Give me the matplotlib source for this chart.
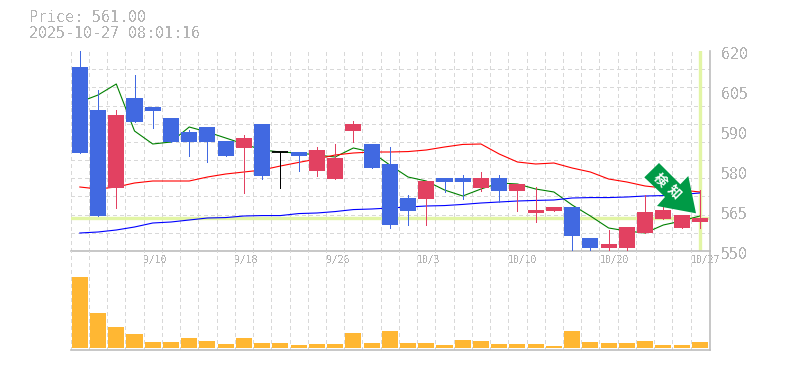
#!/usr/bin/env python3
"""Candlestick + volume snapshot, saved to out.png."""

import matplotlib

matplotlib.use("Agg")  # headless
import matplotlib.pyplot as plt  # noqa: E402
from matplotlib.patches import Polygon  # noqa: E402
from matplotlib.transforms import ScaledTranslation  # noqa: E402

WIDTH, HEIGHT = 785, 370

UP_COLOR = "#e24161"
DOWN_COLOR = "#4169e1"
FLAT_COLOR = "#000000"
VOLUME_COLOR = "#ffb733"
GRID_COLOR = "#d8d8d8"
AXIS_COLOR = "#bdbdbd"
TEXT_COLOR = "#b4b4b4"
MARKER_COLOR = "#e2f5a5"
ARROW_COLOR = "#009a46"
THIN = 0.6  # about one pixel once antialiasing is off
MA_WIDTH = 0.8

TITLE_LINES = ["Price: 561.00", "2025-10-27 08:01:16"]
LAST_PRICE = 561.5

opens = [614.4, 599.35, 572.05, 603.55, 600.4, 596.55, 591.65, 593.4, 588.5, 586.05,
         594.45, 584.65, 584.65, 578.0, 575.2, 592.0, 587.45, 580.45, 568.55, 568.2,
         575.55, 575.55, 572.05, 575.55, 571.0, 563.3, 564.0, 565.4, 554.55, 551.05,
         551.05, 556.3, 561.2, 558.05, 560.15]
closes = [584.3, 562.25, 597.6, 595.15, 599.0, 588.15, 588.15, 588.15, 583.25, 589.55,
          576.25, 584.65, 583.25, 585.35, 582.55, 594.45, 579.05, 559.1, 564.0, 574.5,
          574.15, 574.15, 575.55, 571.0, 573.45, 564.35, 565.4, 555.25, 551.05, 552.45,
          558.4, 563.65, 564.35, 562.6, 561.55]
highs = [620.3, 606.35, 599.35, 611.6, 600.4, 596.55, 592.35, 593.4, 588.5, 590.6,
         594.45, 584.65, 584.65, 586.4, 587.45, 595.5, 587.45, 586.4, 569.6, 574.5,
         575.55, 576.6, 577.65, 576.6, 573.45, 572.4, 565.4, 565.4, 554.55, 557.35,
         558.4, 569.6, 567.15, 562.6, 571.35]
lows = [584.3, 562.25, 565.05, 595.15, 593.05, 588.15, 583.25, 581.15, 583.25, 570.3,
        575.2, 572.05, 578.0, 576.25, 575.2, 588.15, 579.05, 558.05, 559.1, 559.1,
        570.65, 568.2, 571.0, 567.15, 564.0, 560.15, 564.0, 550.0, 550.0, 550.0,
        550.0, 556.3, 561.2, 558.05, 558.05]

ma_short = [602.15, 604.6, 608.45, 592.0, 587.45, 588.15, 593.4, 591.65, 589.55, 587.45,
            585.35, 584.65, 584.3, 583.6, 582.9, 586.05, 584.65, 580.1, 575.9, 574.5,
            571.35, 569.25, 571.7, 573.8, 573.45, 571.7, 570.65, 566.1, 562.25, 558.05,
            557.0, 556.3, 559.1, 560.5, 562.25]
ma_mid = [572.4, 571.7, 572.4, 573.8, 574.5, 574.5, 574.5, 575.9, 576.95, 577.65,
          578.35, 579.75, 581.0, 582.2, 583.6, 584.3, 584.65, 584.65, 584.8, 585.35,
          586.4, 587.3, 587.45, 583.95, 581.15, 580.45, 580.8, 579.05, 577.65, 575.2,
          574.15, 572.75, 572.05, 571.35, 570.65]
ma_long = [556.3, 556.65, 557.35, 558.4, 559.8, 560.15, 560.85, 561.55, 561.7, 562.25,
           562.4, 562.4, 563.1, 563.3, 563.8, 564.5, 564.7, 565.05, 565.4, 565.75,
           565.9, 566.3, 566.8, 567.15, 567.5, 567.7, 567.85, 568.55, 568.7, 568.7,
           568.9, 569.25, 569.4, 569.8, 570.3]

volumes = [71, 35, 21, 14, 6, 6, 10, 7, 4, 10, 5, 5, 3, 4, 4, 15, 5, 17,
           5, 5, 3, 8, 7, 4, 4, 4, 2, 17, 6, 5, 5, 7, 3, 3, 6]

price_ticks = [620, 606, 592, 578, 564, 550]
price_tick_labels = ["620", "605", "590", "580", "565", "550"]
date_slots = [4, 9, 14, 19, 24, 29, 34]
date_labels = ["9/10", "9/18", "9/26", "10/3", "10/10", "10/20", "10/27"]

ARROW_PIXELS = [(659, 163), (644.3, 177.3), (665, 197), (657, 206),
                (696, 213.3), (688.3, 176), (680.3, 184.3)]
ARROW_CHARS = [("検", 660, 180), ("知", 674, 192)]


def px_axes(fig, left, top, right, bottom):
    """Axes placed by image pixels (origin top-left)."""
    return fig.add_axes([left / WIDTH, 1 - bottom / HEIGHT,
                         (right - left) / WIDTH, (bottom - top) / HEIGHT])


def style_axes(ax):
    ax.set_facecolor("none")
    ax.spines[["top", "left"]].set_visible(False)
    ax.spines[["bottom", "right"]].set_color(AXIS_COLOR)
    ax.spines[["bottom", "right"]].set_linewidth(1.2)
    ax.set_axisbelow(True)
    ax.set_xlim(0, 35.06)
    ax.set_xticks(range(35), minor=True)
    ax.grid(True, axis="x", which="both", color=GRID_COLOR, linewidth=THIN,
            linestyle=(0, (4, 4)), antialiased=False)
    ax.tick_params(axis="both", which="both", length=0)


def draw_candles(ax, xs):
    for x, o, c, h, l in zip(xs, opens, closes, highs, lows):
        if c == o:
            color = FLAT_COLOR
        else:
            color = UP_COLOR if c > o else DOWN_COLOR
        ax.vlines(x, l, h, color=color, linewidth=THIN, zorder=4, antialiased=False)
        if c == o:
            ax.hlines(c, x - 0.44, x + 0.44, color=color, linewidth=1.3, zorder=4)
        else:
            ax.bar(x, abs(c - o), width=0.88, bottom=min(o, c), color=color, zorder=5)


plt.rcParams["font.family"] = ["DejaVu Sans Mono"]
plt.rcParams["text.antialiased"] = False

fig = plt.figure(figsize=(WIDTH / 100, HEIGHT / 100), dpi=100)

ax = px_axes(fig, 70.7, 51, 710, 251)
style_axes(ax)
xs = [i + 0.5 for i in range(35)]

ax.set_ylim(550, 620)
ax.yaxis.tick_right()
ax.set_yticks(price_ticks, price_tick_labels, fontsize=10.8, color=TEXT_COLOR)
ax.set_yticks([550 + 70 * i / 11 for i in range(12)], minor=True)
ax.grid(True, axis="y", which="minor", color=GRID_COLOR, linewidth=THIN,
        linestyle=(0, (4, 4)), antialiased=False)
ax.tick_params(axis="y", which="major", pad=8)
for label in ax.get_yticklabels():
    label.set_transform(label.get_transform()
                        + ScaledTranslation(0, -2 / 100, fig.dpi_scale_trans))

ax.set_xticks(date_slots, date_labels, fontsize=7, color=TEXT_COLOR, ha="left")
ax.tick_params(axis="x", which="major", pad=3)

ax.axhline(LAST_PRICE, color=MARKER_COLOR, linewidth=2.4, zorder=2)
ax.axvline(xs[-1], ymin=0.01, color=MARKER_COLOR, linewidth=2.4, zorder=2)

ax.plot(xs, ma_short, color="#008000", linewidth=MA_WIDTH, zorder=3)
ax.plot(xs, ma_mid, color="#ff0000", linewidth=MA_WIDTH, zorder=3)
ax.plot(xs, ma_long, color="#0000ff", linewidth=MA_WIDTH, zorder=3)
draw_candles(ax, xs)

vol_ax = px_axes(fig, 70.7, 251, 710, 350)
style_axes(vol_ax)
vol_ax.set_ylim(-2, 97)
vol_ax.set_xticks([])
vol_ax.set_yticks([])
vol_ax.bar(xs, volumes, width=0.88, color=VOLUME_COLOR, zorder=3)

# Arrow badge sits over everything, placed in image pixels.
fig.add_artist(Polygon([(x / WIDTH, 1 - y / HEIGHT) for x, y in ARROW_PIXELS],
                       closed=True, transform=fig.transFigure, facecolor=ARROW_COLOR,
                       edgecolor="none", zorder=10))
for char, char_x, char_y in ARROW_CHARS:
    fig.text(char_x / WIDTH, 1 - char_y / HEIGHT, char, color="white", fontsize=9.5,
             fontweight="bold", rotation=-45, ha="center", va="center", zorder=11,
             antialiased=True, family=["Noto Sans CJK JP", "DejaVu Sans"])

fig.text(29 / WIDTH, 1 - 18 / HEIGHT, TITLE_LINES[0], color=TEXT_COLOR, fontsize=10.8,
         va="center")
fig.text(29 / WIDTH, 1 - 33 / HEIGHT, TITLE_LINES[1], color=TEXT_COLOR, fontsize=10.8,
         va="center")

fig.savefig("out.png", dpi=100)
